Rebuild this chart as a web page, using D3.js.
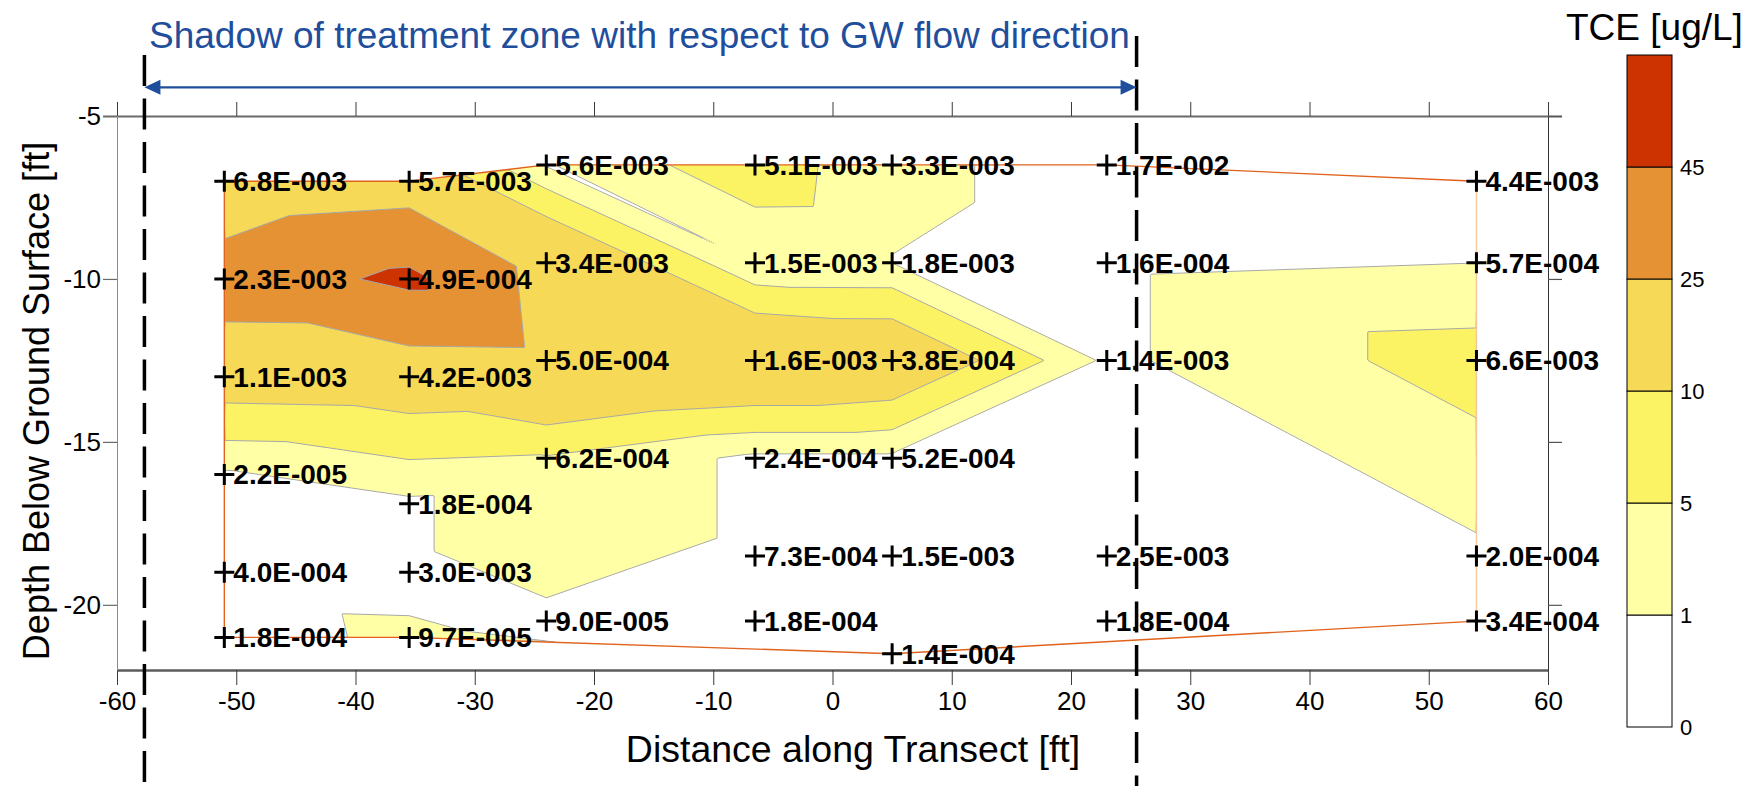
<!DOCTYPE html>
<html>
<head>
<meta charset="utf-8">
<script src="https://cdn.jsdelivr.net/npm/d3@7"></script>
<style>
  html, body { margin: 0; padding: 0; background: #fff; }
  svg { display: block; font-family: "Liberation Sans", Arial, Helvetica, sans-serif; }
</style>
</head>
<body>
<svg id="chart" width="1751" height="786"></svg>
<script>
// ---- Sample grid along the transect ----
// distance along transect (ft) of each sample
const sampleX = [
  -51, -51, -51, -51, -51, -51,
  -35.5, -35.5, -35.5, -35.5, -35.5, -35.5,
  -24, -24, -24, -24, -24,
  -6.5, -6.5, -6.5, -6.5, -6.5, -6.5,
  5, 5, 5, 5, 5, 5,
  23, 23, 23, 23, 23,
  54, 54, 54, 54, 54
];
// depth below ground surface (ft)
const sampleDepth = [
  -7, -10, -13, -16, -19, -21,
  -7, -10, -13, -16.9, -19, -21,
  -6.5, -9.5, -12.5, -15.5, -20.5,
  -6.5, -9.5, -12.5, -15.5, -18.5, -20.5,
  -6.5, -9.5, -12.5, -15.5, -18.5, -21.5,
  -6.5, -9.5, -12.5, -18.5, -20.5,
  -7, -9.5, -12.5, -18.5, -20.5
];
// posted value next to each sample
const sampleLabel = [
  "6.8E-003", "2.3E-003", "1.1E-003", "2.2E-005", "4.0E-004", "1.8E-004",
  "5.7E-003", "4.9E-004", "4.2E-003", "1.8E-004", "3.0E-003", "9.7E-005",
  "5.6E-003", "3.4E-003", "5.0E-004", "6.2E-004", "9.0E-005",
  "5.1E-003", "1.5E-003", "1.6E-003", "2.4E-004", "7.3E-004", "1.8E-004",
  "3.3E-003", "1.8E-003", "3.8E-004", "5.2E-004", "1.5E-003", "1.4E-004",
  "1.7E-002", "1.6E-004", "1.4E-003", "2.5E-003", "1.8E-004",
  "4.4E-003", "5.7E-004", "6.6E-003", "2.0E-004", "3.4E-004"
];
// TCE concentration used for the filled contours (ug/L)
const sampleTCE = [
  12, 34, 13.5, 0.45, 0.3, 0.2,
  16, 49, 14, 0.2, 0.2, 1.4,
  0.7, 18.3, 20.5, 4.6, 0.4,
  8, 1.05, 18.4, 0.2, 0.2, 0.2,
  1.5, 0.955, 16.7, 0.2, 0.2, 0.1,
  0.2, 0.2, 0.2, 0.2, 0.2,
  0.2, 0.98, 7, 0.2, 0.2
];

// contour classes
const tceBreaks = [0, 1, 5, 10, 25, 45];
const bandColors = ["#ffffff", "#ffffa6", "#fbf264", "#f5d957", "#e59234", "#cc3300"];

// axes
const xTicks = [-60, -50, -40, -30, -20, -10, 0, 10, 20, 30, 40, 50, 60];
const yTicks = [-5, -10, -15, -20];

// treatment-zone shadow limits (ft along transect)
const shadowLimits = [-57.7, 25.5];

// ---- layout ----
const W = 1751, H = 786;
const X0 = 117, X1 = 1548, Y0 = 116, Y1 = 670;
const x = d3.scaleLinear().domain([-60, 60]).range([X0, X1]);
const y = d3.scaleLinear().domain([-5, -22]).range([Y0, Y1]);

const svg = d3.select("#chart");
svg.append("rect").attr("width", W).attr("height", H).attr("fill", "#fff");

const pts = sampleX.map((sx, i) => ({
  x: sx, d: sampleDepth[i], label: sampleLabel[i], v: sampleTCE[i],
  px: x(sx), py: y(sampleDepth[i])
}));

// ---- triangulated linear interpolation ----
// a tiny shear keeps the split of rectangular cells consistent
const SHEAR = 0.002;
const delaunay = d3.Delaunay.from(pts, p => p.x, p => p.d + SHEAR * p.x);
const T = delaunay.triangles;
const tris = [];
for (let t = 0; t < T.length; t += 3) {
  const a = pts[T[t]], b = pts[T[t + 1]], c = pts[T[t + 2]];
  const area = Math.abs((b.x - a.x) * (c.d - a.d) - (c.x - a.x) * (b.d - a.d)) / 2;
  if (area < 5) continue; // flat slivers along the edge of the section are left blank
  tris.push([T[t], T[t + 1], T[t + 2]]);
}

const cell = 1;
const gx0 = Math.floor(d3.min(pts, p => p.px)) - 4;
const gy0 = Math.floor(d3.min(pts, p => p.py)) - 4;
const gnx = Math.ceil((d3.max(pts, p => p.px) - gx0) / cell) + 6;
const gny = Math.ceil((d3.max(pts, p => p.py) - gy0) / cell) + 6;
const grid = new Float64Array(gnx * gny).fill(NaN);

tris.forEach(([i, j, k]) => {
  const A = pts[i], B = pts[j], C = pts[k];
  const det = (B.py - C.py) * (A.px - C.px) + (C.px - B.px) * (A.py - C.py);
  const ix0 = Math.max(0, Math.floor((Math.min(A.px, B.px, C.px) - gx0) / cell));
  const ix1 = Math.min(gnx - 1, Math.ceil((Math.max(A.px, B.px, C.px) - gx0) / cell));
  const iy0 = Math.max(0, Math.floor((Math.min(A.py, B.py, C.py) - gy0) / cell));
  const iy1 = Math.min(gny - 1, Math.ceil((Math.max(A.py, B.py, C.py) - gy0) / cell));
  for (let gy = iy0; gy <= iy1; gy++) {
    const py = gy0 + gy * cell;
    for (let gx = ix0; gx <= ix1; gx++) {
      const px = gx0 + gx * cell;
      const l1 = ((B.py - C.py) * (px - C.px) + (C.px - B.px) * (py - C.py)) / det;
      const l2 = ((C.py - A.py) * (px - C.px) + (A.px - C.px) * (py - C.py)) / det;
      const l3 = 1 - l1 - l2;
      if (l1 >= -1e-9 && l2 >= -1e-9 && l3 >= -1e-9) {
        grid[gy * gnx + gx] = l1 * A.v + l2 * B.v + l3 * C.v;
      }
    }
  }
});
// nodes outside the section take the nearest sample (hidden by the clip)
let hint = 0;
for (let gy = 0; gy < gny; gy++) {
  for (let gx = 0; gx < gnx; gx++) {
    const idx = gy * gnx + gx;
    if (!isNaN(grid[idx])) continue;
    const fx = x.invert(gx0 + gx * cell), fy = y.invert(gy0 + gy * cell);
    hint = delaunay.find(fx, fy + SHEAR * fx, hint);
    grid[idx] = pts[hint].v;
  }
}

const contours = d3.contours().size([gnx, gny]).thresholds(tceBreaks.slice(1))(grid);
const toPx = d3.geoTransform({
  point(cx, cy) { this.stream.point(gx0 + (cx - 0.5) * cell, gy0 + (cy - 0.5) * cell); }
});
const contourPath = d3.geoPath(toPx);

const sectionD = tris.map(t => "M" + t.map(i => pts[i].px + "," + pts[i].py).join("L") + "Z").join("");
svg.append("defs").append("clipPath").attr("id", "section")
  .append("path").attr("d", sectionD);

const gC = svg.append("g").attr("clip-path", "url(#section)");
gC.append("path").attr("d", sectionD).attr("fill", bandColors[0]);
gC.selectAll("path.band").data(contours).join("path")
  .attr("class", "band")
  .attr("d", contourPath)
  .attr("fill", (c, i) => bandColors[i + 1])
  .attr("stroke", "#a8a8a8")
  .attr("stroke-width", 1)
  .attr("stroke-linejoin", "round");

// outline of the gridded section
const edgeCount = new Map();
tris.forEach(t => {
  for (let e = 0; e < 3; e++) {
    const a = t[e], b = t[(e + 1) % 3];
    const key = a < b ? a + "-" + b : b + "-" + a;
    edgeCount.set(key, (edgeCount.get(key) || 0) + 1);
  }
});
const outline = [];
edgeCount.forEach((n, key) => { if (n === 1) outline.push(key.split("-").map(Number)); });
svg.append("g").selectAll("line").data(outline).join("line")
  .attr("x1", e => pts[e[0]].px).attr("y1", e => pts[e[0]].py)
  .attr("x2", e => pts[e[1]].px).attr("y2", e => pts[e[1]].py)
  .attr("stroke", e => pts[e[0]].x === pts[e[1]].x && pts[e[0]].x > 0 ? "#f3c79a" : "#e0621c")
  .attr("stroke-width", 1.4);

// ---- axes ----
const fmt = d => String(d);
const gB = svg.append("g").attr("transform", `translate(0,${Y1})`)
  .call(d3.axisBottom(x).tickValues(xTicks).tickSize(15).tickSizeOuter(0).tickPadding(7).tickFormat(fmt));
gB.select(".domain").attr("stroke", "#5c5c5c").attr("stroke-width", 2.5);
gB.selectAll(".tick line").attr("stroke", "#3a3a3a");
gB.selectAll(".tick text").attr("font-size", 26).attr("fill", "#000")
  .attr("font-family", '"Liberation Sans", Arial, sans-serif');

const gT = svg.append("g").attr("transform", `translate(0,${Y0})`)
  .call(d3.axisTop(x).tickValues(xTicks).tickSize(14).tickSizeOuter(0).tickFormat(""));
gT.select(".domain").attr("stroke", "#6a6a6a").attr("stroke-width", 2);
gT.selectAll(".tick line").attr("stroke", "#3a3a3a");

const gL = svg.append("g").attr("transform", `translate(${X0},0)`)
  .call(d3.axisLeft(y).tickValues(yTicks).tickSize(14).tickSizeOuter(0).tickPadding(2).tickFormat(fmt));
gL.select(".domain").attr("stroke", "#8a8a8a").attr("stroke-width", 1);
gL.selectAll(".tick line").attr("stroke", "#6a6a6a").attr("stroke-width", d => d === -5 ? 2 : 1.2);
gL.selectAll(".tick text").attr("font-size", 26).attr("fill", "#000")
  .attr("font-family", '"Liberation Sans", Arial, sans-serif');

const gR = svg.append("g").attr("transform", `translate(${X1},0)`)
  .call(d3.axisRight(y).tickValues(yTicks).tickSize(14).tickSizeOuter(0).tickFormat(""));
gR.select(".domain").attr("stroke", "#333").attr("stroke-width", 1);
gR.selectAll(".tick line").attr("stroke", "#555").attr("stroke-width", d => d === -5 ? 2 : 1.2);

svg.append("text")
  .attr("x", 853).attr("y", 762)
  .attr("text-anchor", "middle").attr("font-size", 37.5).attr("fill", "#000")
  .text("Distance along Transect [ft]");

svg.append("text")
  .attr("transform", `translate(49,401) rotate(-90)`)
  .attr("text-anchor", "middle").attr("font-size", 36).attr("fill", "#000")
  .text("Depth Below Ground Surface [ft]");

// ---- posted sample values ----
const gP = svg.append("g");
gP.selectAll("path").data(pts).join("path")
  .attr("d", p => `M${p.px - 10},${p.py}H${p.px + 10}M${p.px},${p.py - 10.5}V${p.py + 10.5}`)
  .attr("stroke", "#000").attr("stroke-width", 3);
gP.selectAll("text").data(pts).join("text")
  .attr("x", p => p.px + 9).attr("y", p => p.py + 10)
  .attr("font-size", 28).attr("font-weight", "bold").attr("fill", "#000")
  .text(p => p.label);

// ---- treatment-zone shadow annotation ----
const dashTop = [55, 36];
svg.append("g").selectAll("line").data(shadowLimits).join("line")
  .attr("x1", d => x(d)).attr("x2", d => x(d))
  .attr("y1", (d, i) => dashTop[i]).attr("y2", H)
  .attr("stroke", "#000").attr("stroke-width", 3.5)
  .attr("stroke-dasharray", "31,12.5");

const arrowY = 87.3, blue = "#1f4e9c";
const ax0 = x(shadowLimits[0]), ax1 = x(shadowLimits[1]);
svg.append("line").attr("x1", ax0 + 14).attr("x2", ax1 - 14)
  .attr("y1", arrowY).attr("y2", arrowY)
  .attr("stroke", blue).attr("stroke-width", 2.2);
svg.append("path")
  .attr("d", `M${ax0},${arrowY}L${ax0 + 16},${arrowY - 7.5}L${ax0 + 16},${arrowY + 7.5}Z` +
             `M${ax1},${arrowY}L${ax1 - 16},${arrowY - 7.5}L${ax1 - 16},${arrowY + 7.5}Z`)
  .attr("fill", blue);
svg.append("text").attr("x", 149).attr("y", 48)
  .attr("font-size", 37).attr("fill", blue)
  .text("Shadow of treatment zone with respect to GW flow direction");

// ---- colour bar ----
const cbX = 1627, cbW = 45;
const cb = d3.scaleLinear().domain([0, bandColors.length]).range([727, 55]);
const gK = svg.append("g");
gK.selectAll("rect").data(bandColors).join("rect")
  .attr("x", cbX).attr("width", cbW)
  .attr("y", (c, i) => cb(i + 1)).attr("height", (c, i) => cb(i) - cb(i + 1))
  .attr("fill", c => c).attr("stroke", "#000").attr("stroke-width", 1);
gK.selectAll("text").data(tceBreaks).join("text")
  .attr("x", 1680).attr("y", (b, i) => cb(i) + 8)
  .attr("font-size", 22).attr("fill", "#000")
  .text(b => String(b));
svg.append("text").attr("x", 1566).attr("y", 40)
  .attr("font-size", 37).attr("fill", "#000").text("TCE [ug/L]");
</script>
</body>
</html>
